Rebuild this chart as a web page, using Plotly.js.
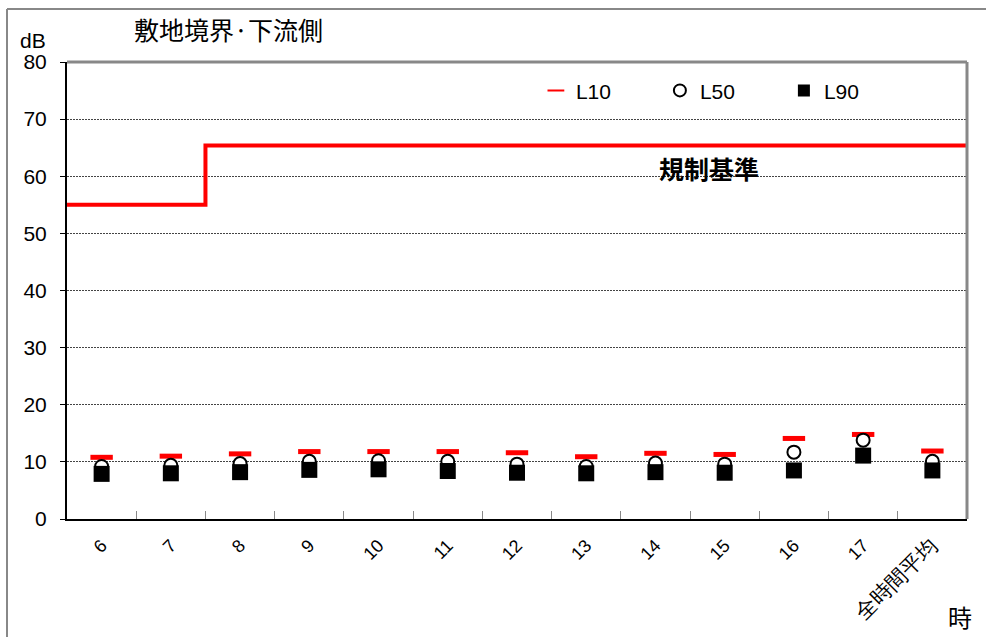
<!DOCTYPE html>
<html>
<head>
<meta charset="utf-8">
<script src="https://cdn.plot.ly/plotly-3.0.1.min.js"></script>
<style>html,body{margin:0;padding:0;background:#fff;}#chart{width:986px;height:637px;}</style>
</head>
<body>
<div id="chart"></div>
<script>
// ---- data ----
const hours = ['6','7','8','9','10','11','12','13','14','15','16','17','全時間平均'];
const L10 = [10.8, 11.0, 11.4, 11.8, 11.8, 11.8, 11.6, 10.9, 11.5, 11.3, 14.1, 14.8, 11.9];
const L50 = [9.2, 9.4, 9.7, 10.1, 10.2, 10.1, 9.6, 9.2, 9.8, 9.6, 11.7, 13.8, 10.1];
const L90 = [7.9, 8.0, 8.2, 8.6, 8.7, 8.4, 8.1, 8.0, 8.2, 8.1, 8.5, 11.1, 8.5];
const standard = [55, 55, 65.4, 65.4, 65.4, 65.4, 65.4, 65.4, 65.4, 65.4, 65.4, 65.4, 65.4];
const yTicks = [0, 10, 20, 30, 40, 50, 60, 70, 80];

// tick label text: CJK label drawn a bit larger, as in the original
const hourLabels = hours.map(h => /^\d+$/.test(h) ? h : '<span style="font-size:21px">' + h + '</span>');

// step line across each category slot (slot i spans i..i+1 on the helper axis)
const stdX = [], stdY = [];
standard.forEach((v, i) => { stdX.push(i, i + 1); stdY.push(v, v); });

const LAT = 'Liberation Sans, Arial, sans-serif';
const JP = 'Noto Sans CJK JP, sans-serif';

const traces = [
  {x: stdX, y: stdY, xaxis: 'x2', yaxis: 'y', mode: 'lines', showlegend: false,
   line: {color: '#ff0000', width: 4}, hoverinfo: 'skip'},
  {x: hours, y: L10, name: 'L10', mode: 'markers', type: 'scatter',
   marker: {symbol: 'line-ew', size: 16, color: '#ff0000', line: {color: '#ff0000', width: 5}}},
  {x: hours, y: L50, name: 'L50', mode: 'markers', type: 'scatter',
   marker: {symbol: 'circle', size: 13, color: '#ffffff', line: {color: '#000000', width: 2}}},
  {x: hours, y: L90, name: 'L90', mode: 'markers', type: 'scatter',
   marker: {symbol: 'square', size: 16, color: '#000000', line: {width: 0}}}
];

const layout = {
  width: 986, height: 637,
  margin: {l: 67, r: 19, t: 62, b: 118, autoexpand: false},
  paper_bgcolor: '#ffffff', plot_bgcolor: '#ffffff',
  font: {family: LAT, color: '#000000'},
  title: {text: '敷地境界·下流側', font: {family: JP, size: 25, color: '#000'},
          xref: 'container', x: 134 / 986, xanchor: 'left',
          yref: 'container', y: 1 - 31 / 637, yanchor: 'middle'},
  xaxis: {type: 'category', range: [-0.5, 12.5], tickson: 'boundaries',
          tickmode: 'array', tickvals: hours, ticktext: hourLabels,
          ticks: 'inside', ticklen: 8, tickcolor: '#888', tickwidth: 1,
          showline: true, linecolor: '#000', linewidth: 2,
          showgrid: false, zeroline: false, tickangle: -45,
          tickfont: {family: LAT, size: 18, color: '#000'}, ticklabelstandoff: 7,
          fixedrange: true},
  xaxis2: {overlaying: 'x', range: [0, 13], visible: false, fixedrange: true},
  yaxis: {range: [0, 80], tickvals: yTicks, ticktext: yTicks.map(String),
          ticks: 'outside', ticklen: 5, tickcolor: '#000', tickwidth: 1,
          showline: true, linecolor: '#000', linewidth: 2,
          showgrid: true, gridcolor: '#444', gridwidth: 1, griddash: '2px,1px',
          zeroline: false, tickfont: {family: LAT, size: 21, color: '#000'},
          ticklabelstandoff: 9, fixedrange: true},
  legend: {orientation: 'h', x: 0.521, xanchor: 'left', y: 0.982, yanchor: 'top',
           font: {family: LAT, size: 21, color: '#000'}, bgcolor: 'rgba(0,0,0,0)',
           entrywidth: 79, entrywidthmode: 'pixels', itemwidth: 30, itemsizing: 'constant'},
  shapes: [
    // plot frame top & right (gray)
    {type: 'line', xref: 'paper', yref: 'paper', x0: 0, x1: 1, y0: 1, y1: 1, line: {color: '#888', width: 3}},
    {type: 'line', xref: 'paper', yref: 'paper', x0: 1, x1: 1, y0: 0, y1: 1, line: {color: '#888', width: 3}},
    // outer chart border (left & top)
    {type: 'line', xref: 'paper', yref: 'paper', x0: -60 / 900, x1: -60 / 900, y0: 510 / 457, y1: -130 / 457, line: {color: '#888', width: 2}},
    {type: 'line', xref: 'paper', yref: 'paper', x0: -60 / 900, x1: 930 / 900, y0: 510 / 457, y1: 510 / 457, line: {color: '#888', width: 2}}
  ],
  annotations: [
    {text: 'dB', xref: 'paper', yref: 'paper', x: (33 - 67) / 900, y: (519 - 40) / 457,
     showarrow: false, font: {family: LAT, size: 21, color: '#000'}, xanchor: 'center', yanchor: 'middle'},
    {text: '時', xref: 'paper', yref: 'paper', x: (960 - 67) / 900, y: (519 - 616) / 457,
     showarrow: false, font: {family: JP, size: 24, color: '#000'}, xanchor: 'center', yanchor: 'middle'},
    {text: '<b>規制基準</b>', xref: 'paper', yref: 'paper', x: (709 - 67) / 900, y: (519 - 168) / 457,
     showarrow: false, font: {family: JP, size: 25, color: '#000'}, xanchor: 'center', yanchor: 'middle'}
  ],
  showlegend: true
};

Plotly.newPlot('chart', traces, layout, {displayModeBar: false, staticPlot: true});
</script>
</body>
</html>
